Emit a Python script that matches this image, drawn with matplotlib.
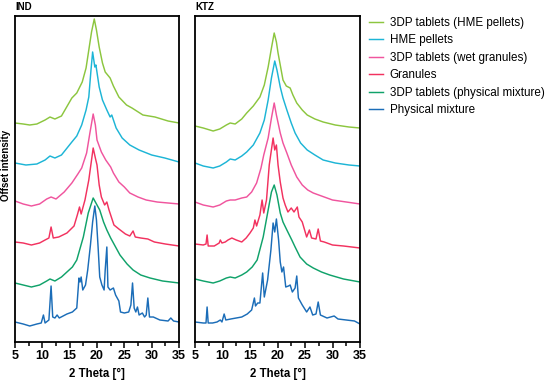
import matplotlib
matplotlib.use("Agg")
import matplotlib.pyplot as plt
from matplotlib.ticker import MultipleLocator

plt.rcParams['font.family'] = ['Liberation Sans', 'DejaVu Sans']

# ---------------- data (2 Theta in degrees, offset intensity in a.u.) ----------------
labels = ["3DP tablets (HME pellets)", "HME pellets", "3DP tablets (wet granules)",
          "Granules", "3DP tablets (physical mixture)", "Physical mixture"]
colors = ["#8CC63F", "#1DB5D6", "#F0559E", "#F2325F", "#10A26A", "#1B6DB8"]
panel_titles = ["IND", "KTZ"]
xticks = [5, 10, 15, 20, 25, 30, 35]

# IND panel
ind_hme_tab_x = [5, 6.5, 7.7, 9, 10.5, 11.4, 12.3, 13.5, 15.4, 16.3, 17.3, 18.0, 18.5, 19.0, 19.5,
                 19.9, 20.4, 21.0, 21.5, 22.4, 23.0, 24.0, 25.4, 26.4, 28.4, 30.6, 33, 35]
ind_hme_tab_y = [219, 218, 217, 218, 222, 225, 223, 226, 244, 249, 260, 274, 292, 310, 323,
                 312, 295, 279, 270, 264, 256, 245, 237, 234, 227, 225, 221, 219]

ind_hme_pel_x = [5, 7, 9, 10.5, 11.4, 12.3, 13.5, 15.4, 16.3, 17.2, 18.0, 18.5, 18.9, 19.2, 19.6,
                 19.8, 20.4, 21.0, 21.8, 22.4, 22.7, 23.5, 24.6, 26.0, 27.7, 30, 32.4, 35]
ind_hme_pel_y = [179, 177, 178, 182, 186, 184, 187, 200, 206, 217, 232, 245, 272, 290, 275,
                 277, 255, 242, 232, 225, 227, 214, 204, 197, 192, 187, 184, 180]

ind_wet_tab_x = [5, 6.5, 8, 9.5, 10.8, 11.6, 12.5, 14, 15.4, 16.5, 17.2, 18.1, 18.7, 19.3, 19.7,
                 20.0, 20.8, 21.6, 22.5, 23.0, 24.0, 25, 26.0, 27.5, 29, 31, 33, 35]
ind_wet_tab_y = [141, 138, 136, 138, 143, 145, 143, 150, 159, 168, 174, 189, 209, 228, 217,
                 202, 190, 182, 175, 169, 160, 155, 149, 145, 142, 140, 139, 138]

ind_gran_x = [5, 6.5, 8, 9.5, 10.5, 11.2, 11.6, 12.0, 13, 14.5, 15.8, 16.4, 16.8, 17.1, 17.8, 18.5,
              19.0, 19.3, 19.7, 20.0, 20.4, 20.8, 21.4, 21.8, 22.2, 23.1, 24, 25.2, 26.0, 26.6,
              27.0, 28, 29.3, 30.5, 32.5, 35]
ind_gran_y = [100, 99, 97, 99, 102, 104, 115, 104, 105, 109, 116, 127, 135, 128, 142, 162,
              182, 194, 184, 177, 157, 145, 137, 140, 132, 117, 113, 108, 106, 111,
              105, 104, 103, 100, 98, 96]

ind_pm_tab_x = [5, 6.5, 8, 9.5, 10.8, 11.4, 12.3, 13.5, 14.5, 15.5, 16.3, 17.5, 18.4, 19.0, 19.3,
                19.7, 20.5, 21.2, 21.8, 22.5, 22.9, 24.2, 25.5, 26.6, 28, 29.7, 32, 35]
ind_pm_tab_y = [59, 57, 55, 57, 61, 63, 61, 65, 70, 75, 82, 105, 129, 139, 144,
                140, 132, 120, 112, 104, 100, 87, 78, 72, 67, 64, 61, 59]

ind_pm_x = [5, 6.5, 7.7, 9, 9.8, 10.2, 10.5, 11.2, 11.6, 11.9, 12.3, 12.7, 13.1, 14.5, 15.5, 16.3,
            16.7, 16.9, 17.1, 17.4, 17.9, 18.3, 18.8, 19.2, 19.6, 19.9, 20.2, 20.5, 20.9, 21.3,
            21.5, 21.8, 22.0, 22.4, 23.0, 23.4, 24.0, 24.3, 25.0, 25.8, 26.2, 26.5, 26.8, 27.1,
            27.4, 27.7, 28.3, 28.7, 29.0, 29.3, 29.6, 30.3, 31.5, 33, 33.5, 34, 35]
ind_pm_y = [20, 18, 16, 18, 19, 27, 19, 22, 56, 25, 24, 27, 24, 28, 30, 34,
            64, 60, 65, 52, 57, 72, 97, 120, 136, 122, 95, 65, 57, 52,
            72, 95, 55, 52, 54, 47, 41, 30, 29, 30, 37, 59, 34, 30,
            35, 27, 29, 25, 27, 44, 25, 25, 22, 21, 24, 21, 20]

# KTZ panel
ktz_hme_tab_x = [5, 6.5, 8.3, 9.5, 10.7, 11.4, 12.3, 13.5, 14.4, 15.6, 16.8, 17.6, 18.3, 18.9, 19.4,
                 19.8, 20.1, 20.6, 21.0, 21.6, 22.3, 22.8, 23.5, 24.5, 25.4, 26.8, 28.3, 30.5, 33, 35]
ktz_hme_tab_y = [216, 214, 211, 213, 217, 219, 218, 223, 229, 236, 245, 257, 275, 294, 309,
                 300, 289, 274, 262, 256, 254, 247, 239, 232, 227, 223, 220, 217, 215, 214]

ktz_hme_pel_x = [5, 6.5, 8.3, 9.5, 10.7, 11.4, 12.3, 13.5, 14.4, 15.6, 16.8, 17.6, 18.3, 18.9, 19.5,
                 19.9, 20.5, 21.0, 21.7, 22.5, 23.2, 24.2, 25.4, 26.8, 28.3, 30.5, 33, 35]
ktz_hme_pel_y = [179, 176, 174, 176, 180, 183, 182, 186, 190, 197, 209, 222, 242, 264, 281,
                 272, 255, 244, 232, 219, 209, 199, 192, 187, 182, 179, 177, 176]

ktz_wet_tab_x = [5, 6.5, 8.3, 9.5, 10.7, 11.4, 12.3, 13.5, 14.4, 15.3, 16.2, 17.0, 17.5, 18.3, 18.9,
                 19.4, 19.8, 20.5, 21.0, 21.7, 22.5, 23.5, 24.5, 25.5, 26.5, 28, 30, 32.5, 35]
ktz_wet_tab_y = [140, 137, 135, 137, 141, 142, 142, 144, 145, 150, 159, 174, 187, 204, 224,
                 239, 227, 209, 199, 189, 177, 165, 157, 152, 149, 146, 142, 140, 138]

ktz_gran_x = [5, 6.5, 7.0, 7.2, 7.4, 8.5, 9.4, 9.6, 9.9, 10.5, 11.0, 11.7, 12.5, 13.5, 14.3, 15.0,
              15.6, 15.9, 16.2, 16.8, 17.2, 17.5, 18.0, 18.5, 19.2, 19.5, 19.8, 20.1, 20.5, 21.0,
              21.4, 21.9, 22.5, 23.0, 23.6, 23.9, 24.5, 25.3, 25.8, 26.2, 27.0, 27.4, 27.8, 28.5,
              30, 32, 35]
ktz_gran_y = [98, 97, 98, 107, 96, 96, 99, 102, 99, 100, 102, 104, 102, 100, 104, 109,
              114, 122, 116, 127, 142, 129, 142, 177, 204, 192, 197, 177, 160, 144,
              137, 130, 134, 130, 135, 125, 120, 105, 112, 104, 103, 113, 101, 100,
              97, 96, 94]

ktz_pm_tab_x = [5, 6.5, 8.3, 9.5, 10.7, 11.4, 12.3, 13.5, 14.4, 15.4, 16.3, 17.4, 18.3, 18.9, 19.4,
                19.9, 20.5, 21.0, 21.7, 22.6, 23.2, 24.1, 25.3, 26.5, 28, 29.5, 32, 35]
ktz_pm_tab_y = [63, 61, 59, 61, 64, 65, 64, 67, 70, 75, 82, 105, 132, 150, 157,
                147, 129, 120, 112, 102, 95, 85, 78, 74, 70, 67, 63, 60]

ktz_pm_x = [5, 6.5, 7.0, 7.2, 7.4, 8.2, 9.0, 9.6, 9.9, 10.3, 10.6, 11.5, 12.5, 13.5, 14.5, 15.3,
            15.8, 16.0, 16.4, 16.8, 17.3, 17.6, 18.2, 18.8, 19.2, 19.5, 19.8, 20.2, 20.5, 20.8,
            21.1, 21.5, 22.0, 22.3, 22.7, 23.2, 23.5, 23.8, 24.5, 25.3, 25.9, 26.4, 27.0, 27.4,
            27.8, 29, 30.3, 31, 32.5, 34, 35]
ktz_pm_y = [20, 19, 19, 35, 19, 19, 20, 22, 20, 28, 22, 23, 24, 25, 28, 32,
            44, 36, 39, 39, 69, 45, 62, 92, 119, 110, 123, 102, 80, 70,
            75, 55, 56, 57, 50, 54, 66, 44, 37, 30, 35, 27, 28, 40,
            27, 24, 26, 23, 22, 21, 18]

panels = [
    [(ind_hme_tab_x, ind_hme_tab_y), (ind_hme_pel_x, ind_hme_pel_y), (ind_wet_tab_x, ind_wet_tab_y),
     (ind_gran_x, ind_gran_y), (ind_pm_tab_x, ind_pm_tab_y), (ind_pm_x, ind_pm_y)],
    [(ktz_hme_tab_x, ktz_hme_tab_y), (ktz_hme_pel_x, ktz_hme_pel_y), (ktz_wet_tab_x, ktz_wet_tab_y),
     (ktz_gran_x, ktz_gran_y), (ktz_pm_tab_x, ktz_pm_tab_y), (ktz_pm_x, ktz_pm_y)],
]

# ---------------- figure ----------------
W, H = 550, 382
fig = plt.figure(figsize=(W / 100, H / 100), dpi=100)

boxes = [(15, 15.5, 179, 342), (195, 15.5, 360, 342)]  # left, top, right, bottom (pixels)
handles = []
for i, (l, t, r, b) in enumerate(boxes):
    ax = fig.add_axes([l / W, 1 - b / H, (r - l) / W, (b - t) / H])
    for j, (xs, ys) in enumerate(panels[i]):
        ln, = ax.plot(xs, ys, color=colors[j], lw=1.05, label=labels[j])
        if i == 0:
            handles.append(ln)
    ax.set_xlim(5, 35)
    ax.set_ylim(0, 326.5)
    ax.set_yticks([])
    ax.set_xticks(xticks)
    ax.xaxis.set_minor_locator(MultipleLocator(2.5))
    ax.tick_params(axis='x', which='major', length=4, width=1.1, direction='out', pad=2,
                   labelsize=9)
    ax.tick_params(axis='x', which='minor', length=3, width=1.1, direction='out')
    for lab in ax.get_xticklabels():
        lab.set_fontweight('bold')
    for sp in ax.spines.values():
        sp.set_linewidth(1.3)
        sp.set_color('black')
    ax.set_xlabel("2 Theta [°]", fontsize=8.3, fontweight='bold', labelpad=4)
    ax.text(0.0, 1.012, panel_titles[i], transform=ax.transAxes, fontsize=7,
            fontweight='bold', ha='left', va='bottom')

fig.text(6 / W, 1 - 165 / H, "Offset intensity", rotation=90, fontsize=7, fontweight='bold',
         ha='center', va='center')

fig.legend(handles=handles, labels=labels, loc='upper left',
           bbox_to_anchor=(364 / W, 1 - 12 / H), frameon=False, fontsize=8.4,
           handlelength=1.25, handletextpad=0.55, labelspacing=0.47, borderaxespad=0)

fig.savefig("out.png", dpi=100)
